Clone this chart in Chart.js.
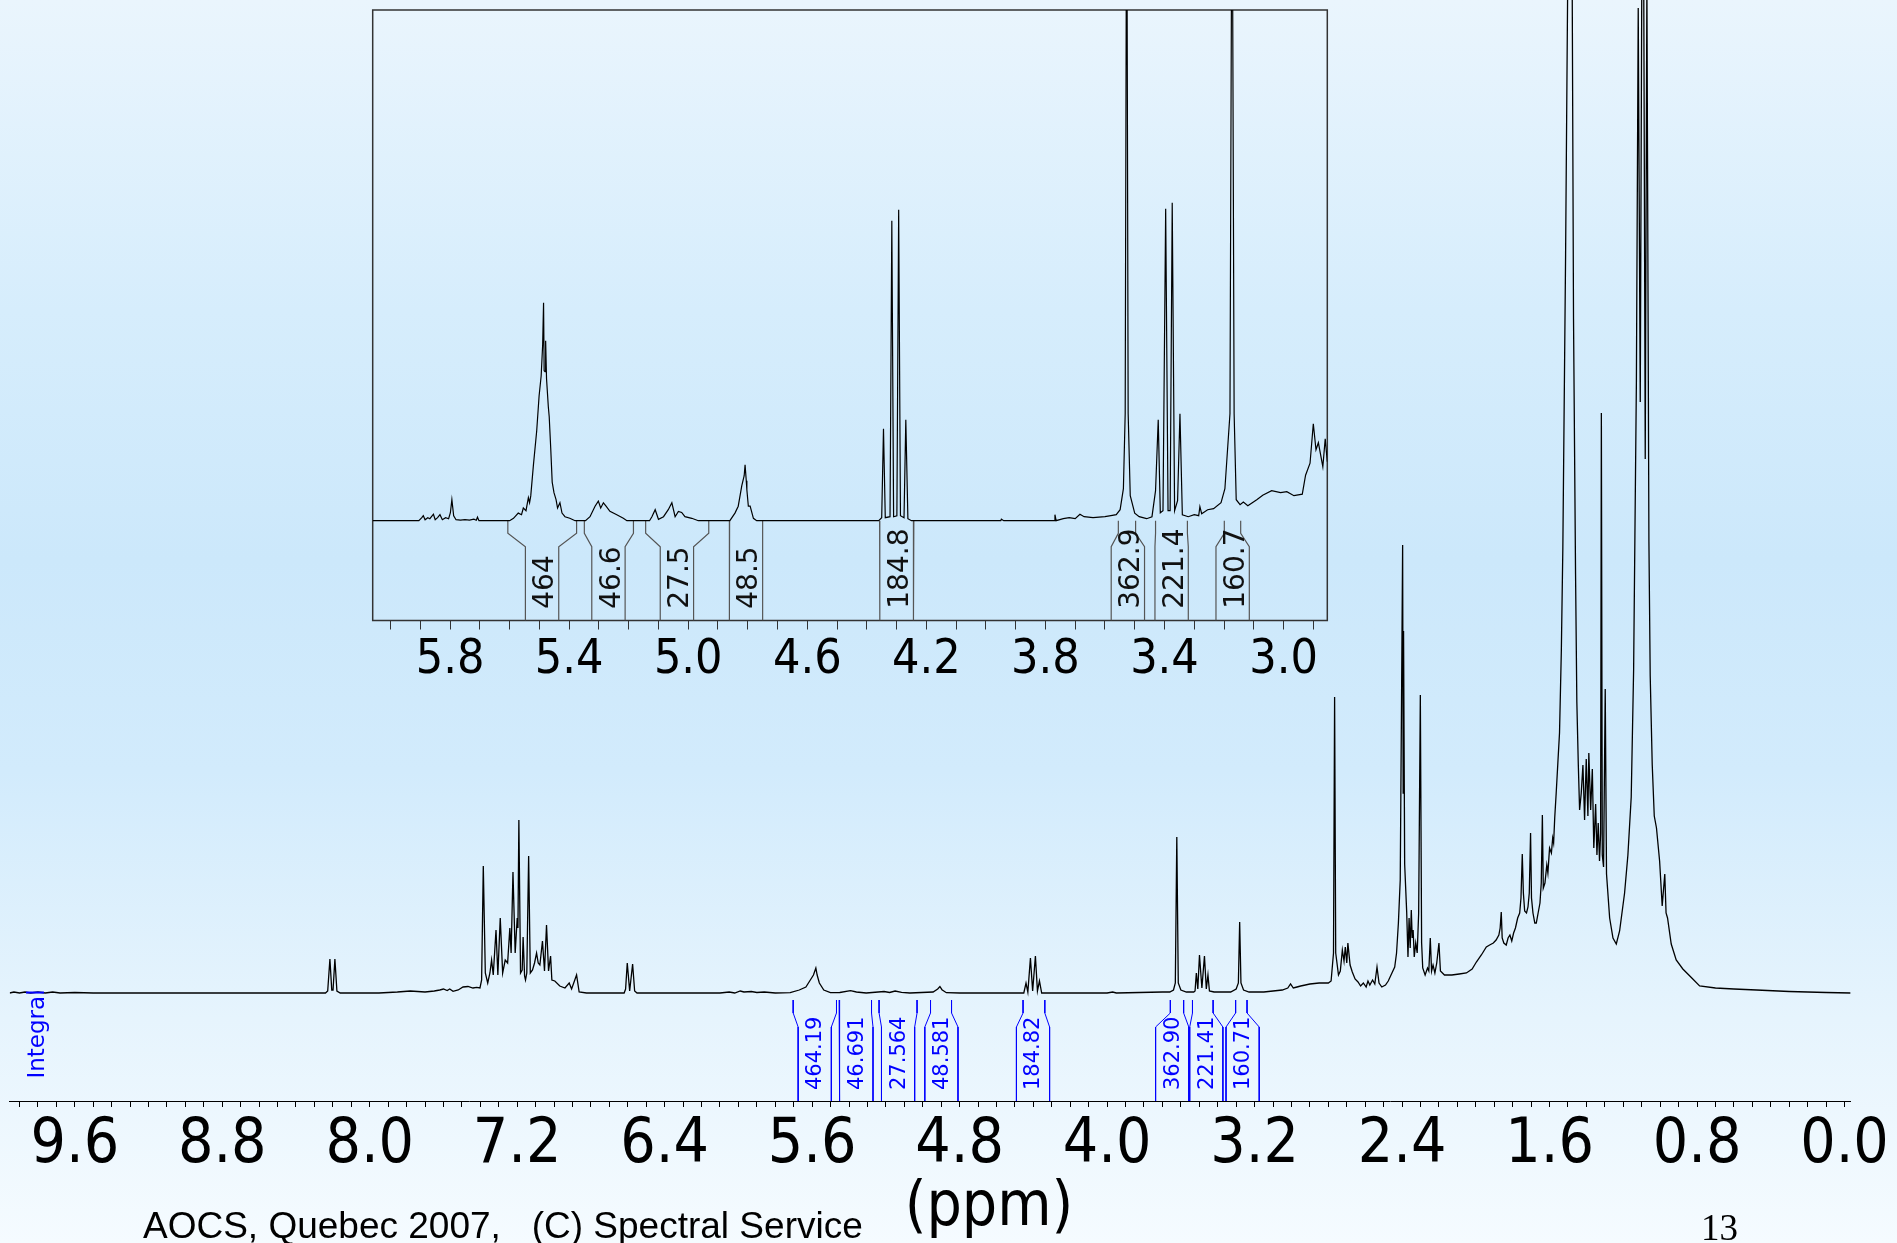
<!DOCTYPE html>
<html>
<head>
<meta charset="utf-8">
<script src="https://cdn.jsdelivr.net/npm/chart.js@4.4.1/dist/chart.umd.min.js"></script>
<style>
  html, body { margin: 0; padding: 0; }
  body {
    width: 1897px; height: 1243px; position: relative; overflow: hidden;
    background: linear-gradient(to bottom, #eaf5fd 0%, #d6edfc 25%, #cce8fb 45%, #d2ebfc 62%, #e6f4fd 82%, #f5fbff 100%);
  }
  canvas { position: absolute; }
  #main { left: 0; top: 0; }
  #inset { left: 330px; top: 0; }
  .txt { position: absolute; white-space: pre; }
  #integral { left: -14px; top: 1021px; width: 100px; height: 26px; line-height: 26px; text-align: center;
    font: 23px 'DejaVu Sans', sans-serif; color: #0000ff; transform: rotate(-90deg); }
  #ppm { left: 839px; top: 1167px; width: 300px; text-align: center; line-height: 62px;
    font: 62px 'DejaVu Sans Condensed', sans-serif; color: #000; }
  #footer { left: 143px; top: 1205px; line-height: 37px; font: 37px 'Liberation Sans', Arial, sans-serif; color: #000; }
  #page { left: 1701px; top: 1206px; line-height: 37px; font: 37px 'Liberation Serif', 'Times New Roman', serif; color: #000; }
</style>
</head>
<body>
<canvas id="main" width="1897" height="1243"></canvas>
<canvas id="inset" width="1040" height="720"></canvas>
<div class="txt" id="integral">Integral</div>
<div class="txt" id="ppm">(ppm)</div>
<div class="txt" id="footer">AOCS, Quebec 2007,   (C) Spectral Service</div>
<div class="txt" id="page">13</div>
<script>
// full spectrum, [shift ppm, intensity], per region
const mainLowField = [
  [9.953, 0], [9.93, 1], [9.90, 0], [9.87, 1], [9.84, 0], [9.80, 1], [9.76, 0], [9.72, 1], [9.68, 0], [9.60, 0.5],
  [9.50, 0], [9.2, 0], [8.8, 0], [8.4, 0], [8.24, 0], [8.228, 2], [8.216, 34], [8.206, 3], [8.199, 3], [8.189, 34],
  [8.178, 2], [8.16, 0]
];
const mainAromatic = [
  [7.95, 0], [7.85, 1], [7.78, 2], [7.70, 1], [7.65, 2], [7.62, 3], [7.60, 4], [7.58, 2.5], [7.566, 4], [7.548, 1.7],
  [7.52, 3], [7.494, 6], [7.467, 6.5], [7.44, 5], [7.42, 5.7], [7.402, 5], [7.393, 13], [7.384, 127], [7.373, 20],
  [7.360, 10], [7.348, 20], [7.339, 33], [7.330, 18], [7.315, 63], [7.305, 18], [7.292, 75], [7.279, 20], [7.265, 33],
  [7.252, 30], [7.240, 65], [7.233, 40], [7.223, 121], [7.211, 40], [7.200, 75], [7.196, 65], [7.191, 173], [7.182, 20],
  [7.173, 23], [7.168, 56], [7.160, 17], [7.155, 13], [7.148, 20], [7.138, 137], [7.129, 20], [7.117, 23], [7.106, 30],
  [7.095, 40], [7.086, 30], [7.077, 28], [7.063, 52], [7.052, 22], [7.041, 68], [7.030, 22], [7.019, 37], [7.012, 13],
  [6.996, 12], [6.969, 7], [6.941, 5], [6.918, 10], [6.905, 4], [6.878, 18], [6.864, 1], [6.824, 0],
  [6.62, 0], [6.612, 4], [6.603, 30], [6.590, 2], [6.574, 29], [6.563, 2], [6.55, 0]
];
const mainOlefinic = [
  [6.10, 0], [6.05, 1], [6.02, 0], [5.99, 2], [5.97, 1], [5.93, 1.5], [5.90, 0.5], [5.86, 1], [5.80, 0],
  [5.719, 0.3], [5.670, 3], [5.634, 6], [5.610, 13], [5.593, 18], [5.580, 25], [5.573, 18], [5.561, 10], [5.537, 3],
  [5.501, 0.3], [5.45, 0.5], [5.392, 2.3], [5.36, 1], [5.307, 0], [5.210, 1.5], [5.18, 0.5], [5.150, 2], [5.115, 0.7],
  [5.07, 0], [4.944, 1], [4.919, 4], [4.907, 6.5], [4.896, 3.3], [4.872, 0.3], [4.80, 0]
];
const mainGlycerol = [
  [4.452, 0], [4.440, 10], [4.430, 1], [4.416, 35], [4.404, 2], [4.389, 37], [4.378, 2], [4.367, 12], [4.355, 0],
  [4.00, 0], [3.97, 1], [3.95, 0], [3.70, 1], [3.66, 1], [3.64, 3], [3.630, 10], [3.622, 156], [3.614, 10], [3.60, 3],
  [3.57, 1], [3.53, 1], [3.523, 2], [3.516, 20], [3.508, 4], [3.499, 38], [3.486, 5], [3.472, 37], [3.462, 4],
  [3.453, 18], [3.445, 2], [3.42, 1], [3.33, 1], [3.30, 4], [3.288, 10], [3.281, 71], [3.274, 10], [3.26, 3], [3.23, 1]
];
const mainAllylic = [
  [3.15, 1], [3.10, 2], [3.05, 3], [3.02, 5], [3.005, 9], [2.99, 5], [2.97, 6], [2.95, 7], [2.90, 9], [2.85, 10],
  [2.80, 10], [2.785, 12], [2.772, 40], [2.766, 296], [2.760, 40], [2.745, 18], [2.735, 22], [2.724, 43], [2.715, 32],
  [2.708, 46], [2.700, 30], [2.694, 50], [2.682, 28], [2.670, 21], [2.655, 14], [2.639, 11], [2.625, 7], [2.610, 10],
  [2.595, 6], [2.585, 12], [2.575, 8], [2.560, 13], [2.548, 9], [2.536, 26], [2.525, 10], [2.51, 6], [2.49, 8],
  [2.475, 12], [2.455, 20], [2.440, 26], [2.430, 40], [2.420, 70], [2.410, 113], [2.403, 291], [2.397, 448],
  [2.394, 200], [2.392, 362], [2.386, 129], [2.375, 81], [2.368, 36], [2.362, 75], [2.356, 45], [2.350, 83],
  [2.345, 55], [2.340, 63], [2.334, 36], [2.326, 50], [2.318, 40], [2.310, 80], [2.301, 298], [2.294, 50], [2.288, 25],
  [2.275, 18], [2.262, 25], [2.255, 22], [2.247, 55], [2.240, 22], [2.232, 28], [2.222, 20], [2.212, 30], [2.200, 50],
  [2.192, 22], [2.17, 18], [2.13, 18], [2.09, 19], [2.051, 20]
];
const mainMethylene = [
  [2.020, 24], [1.997, 31], [1.970, 38], [1.943, 46], [1.925, 48], [1.905, 50], [1.890, 53], [1.875, 58], [1.868, 65],
  [1.862, 81], [1.857, 55], [1.848, 50], [1.835, 48], [1.825, 55], [1.815, 58], [1.805, 52], [1.795, 60], [1.785, 65],
  [1.773, 75], [1.762, 80], [1.755, 95], [1.748, 139], [1.742, 100], [1.735, 82], [1.725, 80], [1.717, 86], [1.710, 100],
  [1.703, 160], [1.698, 95], [1.690, 80], [1.680, 70], [1.672, 70], [1.662, 80], [1.652, 90], [1.645, 110], [1.639, 178],
  [1.634, 105], [1.625, 110], [1.615, 128], [1.609, 120], [1.600, 145], [1.590, 140], [1.583, 155], [1.578, 150],
  [1.572, 175], [1.564, 200], [1.555, 230], [1.546, 260], [1.536, 343], [1.528, 444], [1.513, 738], [1.502, 1000],
  [1.490, 1500], [1.477, 1000], [1.470, 674], [1.459, 419], [1.452, 291], [1.444, 228], [1.437, 183]
];
const mainMethyl = [
  [1.428, 200], [1.419, 228], [1.410, 173], [1.401, 234], [1.392, 177], [1.387, 240], [1.377, 183], [1.368, 224],
  [1.360, 145], [1.350, 189], [1.343, 138], [1.336, 170], [1.329, 132], [1.323, 160], [1.319, 580], [1.314, 138],
  [1.307, 126], [1.298, 304], [1.291, 119], [1.274, 75], [1.256, 55], [1.238, 49], [1.220, 62], [1.193, 100],
  [1.175, 138], [1.157, 196], [1.144, 323], [1.137, 457], [1.129, 610], [1.119, 985], [1.108, 591], [1.094, 1300],
  [1.081, 534], [1.072, 1010], [1.061, 451], [1.054, 317], [1.043, 228], [1.032, 177], [1.020, 165], [1.003, 132],
  [0.989, 87], [0.975, 119], [0.968, 80], [0.960, 75], [0.940, 49], [0.913, 33], [0.877, 24], [0.823, 14], [0.786, 7],
  [0.70, 5], [0.60, 4], [0.477, 3], [0.30, 1.5], [0.10, 0.5], [-0.033, 0]
];

// expanded region 6.06 - 2.85 ppm
const insetOlefinic = [
  [6.060, 0], [5.95, 0], [5.905, 0], [5.895, 3], [5.890, 5], [5.884, 1], [5.875, 3], [5.868, 2], [5.856, 6.5],
  [5.850, 1], [5.842, 3], [5.834, 6], [5.826, 1], [5.815, 3], [5.805, 2], [5.799, 8], [5.794, 21], [5.788, 5],
  [5.780, 1], [5.765, 0.5], [5.750, 1], [5.735, 0.5], [5.720, 1.5], [5.712, 0.5], [5.708, 3.5], [5.703, 0], [5.60, 0],
  [5.587, 2.4], [5.571, 7.6], [5.560, 6], [5.554, 12.7], [5.545, 10], [5.537, 23], [5.533, 18], [5.529, 24.8],
  [5.520, 55.8], [5.509, 90], [5.501, 124.7], [5.494, 145], [5.489, 176], [5.486, 218], [5.484, 150], [5.481, 149],
  [5.479, 180], [5.476, 142], [5.470, 114], [5.467, 104], [5.462, 73], [5.457, 38.6], [5.451, 28], [5.444, 21],
  [5.439, 12.7], [5.431, 18], [5.424, 7.6], [5.414, 4], [5.398, 2.4], [5.380, 0], [5.345, 0],
  [5.330, 4], [5.313, 14.5], [5.302, 19.6], [5.294, 12.7], [5.285, 17.9], [5.276, 14.5], [5.263, 9.3], [5.240, 5.9],
  [5.218, 2.4], [5.206, 0], [5.13, 0], [5.122, 4], [5.111, 11], [5.100, 1.4], [5.083, 4], [5.067, 11], [5.055, 17.9],
  [5.044, 4], [5.033, 9.3], [5.022, 8.3], [5.011, 4], [4.988, 2.4], [4.966, 0], [4.86, 0],
  [4.843, 7.6], [4.832, 14.5], [4.820, 35], [4.812, 45], [4.809, 55.8], [4.805, 40], [4.803, 31], [4.798, 14.5],
  [4.792, 14.5], [4.781, 2.4], [4.770, 0]
];
const insetGlycerol = [
  [4.36, 0], [4.350, 3], [4.344, 92], [4.338, 3], [4.322, 4], [4.316, 300], [4.310, 4], [4.299, 5], [4.293, 311],
  [4.287, 5], [4.275, 3], [4.269, 101], [4.262, 2], [4.25, 0], [3.95, 0], [3.948, 1.5], [3.94, 0], [3.77, 0],
  [3.768, 6], [3.764, 0], [3.74, 2], [3.72, 3], [3.70, 2], [3.684, 6.5], [3.67, 4], [3.64, 3], [3.60, 4], [3.58, 5],
  [3.562, 6], [3.549, 11], [3.538, 32], [3.532, 107], [3.527, 700], [3.522, 107], [3.515, 25], [3.500, 7.6],
  [3.485, 4], [3.46, 2], [3.442, 4], [3.430, 30], [3.421, 101], [3.414, 8], [3.405, 10], [3.396, 312], [3.388, 10],
  [3.381, 10], [3.374, 318], [3.366, 10], [3.356, 20], [3.348, 107], [3.340, 6], [3.32, 4], [3.30, 6], [3.285, 5],
  [3.281, 14], [3.275, 7], [3.255, 11], [3.235, 12], [3.21, 18], [3.197, 32], [3.180, 107], [3.173, 700], [3.166, 107],
  [3.159, 21], [3.146, 16], [3.135, 18.6], [3.120, 15], [3.090, 21], [3.070, 25.5], [3.040, 30], [3.010, 28],
  [2.989, 29], [2.965, 25], [2.937, 26.5], [2.926, 45.5], [2.911, 57.5], [2.900, 97], [2.891, 71], [2.883, 78],
  [2.868, 54], [2.860, 82], [2.853, 59]
];

const mainTickLabels = ['9.6', '8.8', '8.0', '7.2', '6.4', '5.6', '4.8', '4.0', '3.2', '2.4', '1.6', '0.8', '0.0'];
const insetTickLabels = ['5.8', '5.4', '5.0', '4.6', '4.2', '3.8', '3.4', '3.0'];

const mainIntegralLabels = ['464.19', '46.691', '27.564', '48.581', '184.82', '362.90', '221.41', '160.71'];
const mainIntegralFrom = [5.703, 5.454, 5.237, 4.958, 4.456, 3.657, 3.537, 3.303];
const mainIntegralTo = [5.468, 5.278, 5.031, 4.844, 4.338, 3.585, 3.425, 3.241];
const mainIntegralAt = [5.586, 5.360, 5.134, 4.899, 4.402, 3.647, 3.462, 3.265];

const insetIntegralLabels = ['464', '46.6', '27.5', '48.5', '184.8', '362.9', '221.4', '160.7'];
const insetIntegralFrom = [5.606, 5.349, 5.143, 4.861, 4.357, 3.555, 3.430, 3.199];
const insetIntegralTo = [5.375, 5.184, 4.931, 4.750, 4.242, 3.497, 3.323, 3.144];
const insetIntegralAt = [5.491, 5.268, 5.038, 4.806, 4.300, 3.523, 3.376, 3.171];

const TICK_FONT = "'DejaVu Sans Condensed', sans-serif";

function toPoints(...regions) {
  return [].concat(...regions).map(([x, y]) => ({x, y}));
}

// integral bracket: straight down from the range ends, then kink towards the label column
function bracketPoints(from, to, at, half, lv) {
  let pts = [];
  for (let i = 0; i < from.length; i++) {
    pts.push({x: from[i], y: lv.top}, {x: from[i], y: lv.bend}, {x: at[i] + half, y: lv.neck},
      {x: at[i] + half, y: lv.bottom}, {x: at[i] + half, y: null});
    pts.push({x: to[i], y: lv.top}, {x: to[i], y: lv.bend}, {x: at[i] - half, y: lv.neck},
      {x: at[i] - half, y: lv.bottom}, {x: at[i] - half, y: null});
  }
  return pts;
}

const integralText = {
  id: 'integralText',
  afterDatasetsDraw(chart, args, opts) {
    const {ctx, scales: {x, y}} = chart;
    ctx.save();
    ctx.fillStyle = opts.color;
    ctx.font = opts.font;
    ctx.textAlign = 'left';
    ctx.textBaseline = 'middle';
    opts.labels.forEach((t, i) => {
      ctx.save();
      ctx.translate(x.getPixelForValue(opts.at[i]) + opts.shift, y.getPixelForValue(opts.base));
      ctx.rotate(-Math.PI / 2);
      ctx.fillText(t, 0, 0);
      ctx.restore();
    });
    ctx.restore();
  }
};

const frame = {
  id: 'frame',
  beforeDatasetsDraw(chart, args, opts) {
    const {ctx, chartArea: a} = chart;
    ctx.save();
    ctx.strokeStyle = opts.color;
    ctx.lineWidth = opts.width;
    ctx.strokeRect(a.left, a.top, a.right - a.left, a.bottom - a.top);
    ctx.restore();
  }
};

function lineSet(data, color, width) {
  return {data, showLine: true, borderColor: color, borderWidth: width, pointRadius: 0, tension: 0, spanGaps: false};
}

function xAxis(min, max, labels, size, pad, height, tickLen, color) {
  return {
    type: 'linear', reverse: true, min, max,
    afterFit: s => { s.height = height; },
    border: {color, width: 1},
    grid: {drawOnChartArea: false, tickLength: tickLen, tickColor: color, tickWidth: 1},
    ticks: {
      stepSize: 0.1, autoSkip: false, includeBounds: false, maxRotation: 0, minRotation: 0, padding: pad,
      color: '#000', font: {family: TICK_FONT, size, lineHeight: 1},
      callback: v => labels.includes(v.toFixed(1)) ? v.toFixed(1) : ''
    }
  };
}

const common = {responsive: false, animation: false, devicePixelRatio: 1, events: []};

new Chart(document.getElementById('main'), {
  type: 'scatter',
  data: {
    datasets: [
      lineSet(toPoints(mainLowField, mainAromatic, mainOlefinic, mainGlycerol, mainAllylic, mainMethylene, mainMethyl), '#000', 1.3),
      lineSet(bracketPoints(mainIntegralFrom, mainIntegralTo, mainIntegralAt, 0.09,
        {top: -7, bend: -20, neck: -34, bottom: -108}), '#0000ff', 1)
    ]
  },
  options: {
    ...common,
    layout: {padding: {left: 9.7, right: 46, top: 0, bottom: 42}},
    plugins: {
      legend: {display: false}, tooltip: {enabled: false},
      integralText: {labels: mainIntegralLabels, at: mainIntegralAt, base: -97, shift: 1,
        color: '#0000ff', font: "21px 'DejaVu Sans', sans-serif"}
    },
    scales: {
      x: xAxis(-0.033, 9.953, mainTickLabels, 62, 8, 100, 6, '#000'),
      y: {display: false, min: -108, max: 993}
    }
  },
  plugins: [integralText]
});

new Chart(document.getElementById('inset'), {
  type: 'scatter',
  data: {
    datasets: [
      lineSet(toPoints(insetOlefinic, insetGlycerol), '#000', 1.2),
      lineSet(bracketPoints(insetIntegralFrom, insetIntegralTo, insetIntegralAt, 0.056,
        {top: 0, bend: -12.6, neck: -26, bottom: -99.8}), '#555', 1.2)
    ]
  },
  options: {
    ...common,
    layout: {padding: {left: 42.7, right: 42.7, top: 10, bottom: 19.5}},
    plugins: {
      legend: {display: false}, tooltip: {enabled: false},
      frame: {color: '#333', width: 1.5},
      integralText: {labels: insetIntegralLabels, at: insetIntegralAt, base: -88, shift: 4,
        color: '#111', font: "28px 'DejaVu Sans', sans-serif"}
    },
    scales: {
      x: xAxis(2.853, 6.060, insetTickLabels, 48, 7, 80, 9, '#333'),
      y: {display: false, min: -99.8, max: 510.7}
    }
  },
  plugins: [frame, integralText]
});
</script>
</body>
</html>
